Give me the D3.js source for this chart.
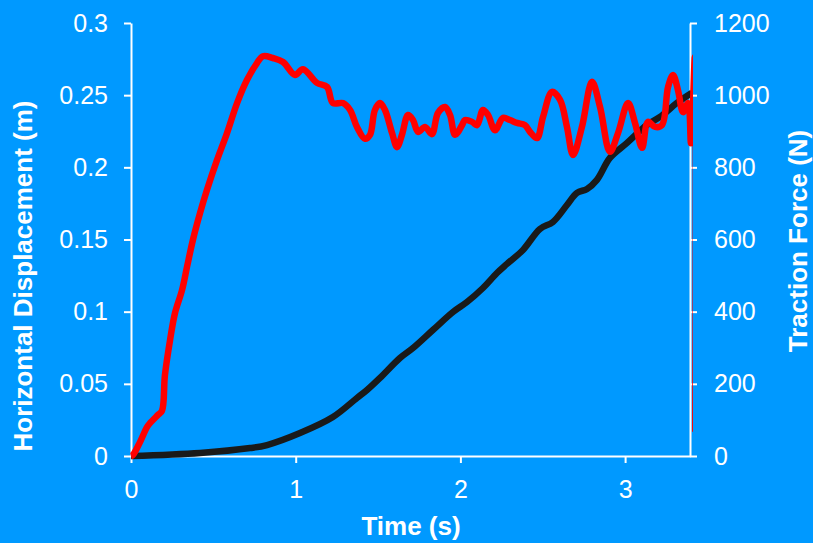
<!DOCTYPE html>
<html>
<head>
<meta charset="utf-8">
<script src="https://cdn.jsdelivr.net/npm/d3@7"></script>
<style>
    body { margin: 0; background: #0099ff; }
    svg { display: block; }
    text { font-family: Arial, "Liberation Sans", sans-serif; fill: #ffffff; }
</style>
</head>
<body>
<svg id="svg1" width="813" height="543"></svg>
<script>
// traction force (N) against time (s), red
var forceTime = [0, 0.012, 0.055, 0.097, 0.115, 0.164, 0.188, 0.206, 0.237, 0.267, 0.310, 0.340, 0.376,
    0.419, 0.461, 0.522, 0.583, 0.644, 0.704, 0.765, 0.801, 0.862, 0.923, 0.996, 1.044, 1.129, 1.190,
    1.226, 1.287, 1.330, 1.372, 1.421, 1.451, 1.481, 1.512, 1.542, 1.585, 1.615, 1.645, 1.682, 1.712,
    1.743, 1.785, 1.827, 1.864, 1.907, 1.937, 1.968, 2.010, 2.028, 2.071, 2.101, 2.137, 2.168, 2.210,
    2.259, 2.301, 2.344, 2.392, 2.423, 2.465, 2.502, 2.556, 2.605, 2.647, 2.684, 2.738, 2.799, 2.848,
    2.908, 2.957, 3.018, 3.060, 3.103, 3.139, 3.182, 3.224, 3.261, 3.291, 3.321, 3.352, 3.382, 3.400,
    3.424, 3.426];
var forceValues = [0, 3, 39, 80, 91, 114, 125, 224, 321, 396, 460, 524, 599,
    673, 737, 820, 895, 978, 1042, 1089, 1108, 1103, 1092, 1056, 1072, 1034, 1023,
    978, 978, 959, 912, 879, 890, 959, 978, 959, 895, 856, 890, 945, 931,
    898, 912, 892, 951, 967, 945, 890, 917, 931, 926, 917, 959, 945, 903,
    937, 931, 923, 917, 898, 881, 940, 1009, 987, 912, 834, 912, 1037, 967,
    843, 895, 978, 923, 854, 926, 912, 917, 1023, 1056, 1014, 953, 978, 867,
    1106, 67];

// horizontal displacement (m) against time (s), black
var dispTime = [0, 0.419, 0.723, 0.826, 1.026, 1.226, 1.372, 1.433, 1.512, 1.633, 1.712, 1.833, 1.955,
    2.040, 2.137, 2.222, 2.283, 2.380, 2.483, 2.562, 2.647, 2.708, 2.769, 2.829, 2.908, 3.012, 3.133,
    3.212, 3.315, 3.406];
var dispValues = [0, 0.0021, 0.0055, 0.0076, 0.0159, 0.0270, 0.0402, 0.0457, 0.0541, 0.0679, 0.0748, 0.0873, 0.0998,
    0.1067, 0.1164, 0.1268, 0.1331, 0.1428, 0.1573, 0.1622, 0.1739, 0.1823, 0.1850, 0.1913, 0.2065, 0.2169, 0.2294,
    0.2349, 0.2446, 0.2516];

var timeTicks = [0, 1, 2, 3];
var dispTicks = [0, 0.05, 0.1, 0.15, 0.2, 0.25, 0.3];
var dispTickLabels = ['0', '0.05', '0.1', '0.15', '0.2', '0.25', '0.3'];
var forceTicks = [0, 200, 400, 600, 800, 1000, 1200];

var svg = d3.select('#svg1');
var plotLeft = 131, plotRight = 690, plotTop = 23, plotBottom = 456;

var x = d3.scaleLinear().domain([0, 3.394]).range([plotLeft, plotRight]);
var yLeft = d3.scaleLinear().domain([0, 0.3]).range([plotBottom, plotTop]);
var yRight = d3.scaleLinear().domain([0, 1200]).range([plotBottom, plotTop]);

svg.append('rect').attr('width', 813).attr('height', 543).attr('fill', '#0099ff');

svg.append('clipPath').attr('id', 'plotClip')
    .append('rect')
    .attr('x', plotLeft - 10)
    .attr('y', 0)
    .attr('width', plotRight + 3 - (plotLeft - 10))
    .attr('height', 543);

function styleAxis(g) {
    g.selectAll('path, line').attr('stroke', '#ffffff').attr('stroke-width', 2);
    g.selectAll('text').attr('fill', '#ffffff').style('font-size', '25px')
        .style('font-family', 'Arial, "Liberation Sans", sans-serif');
}

svg.append('g')
    .attr('transform', 'translate(0,' + plotBottom + ')')
    .call(d3.axisBottom(x).tickValues(timeTicks).tickFormat(d3.format('d'))
        .tickSize(7).tickSizeOuter(0).tickPadding(17))
    .call(styleAxis);

svg.append('g')
    .attr('transform', 'translate(' + plotLeft + ',0)')
    .call(d3.axisLeft(yLeft).tickValues(dispTicks)
        .tickFormat(function (d, i) { return dispTickLabels[i]; })
        .tickSize(7).tickSizeOuter(0).tickPadding(16))
    .call(styleAxis);

svg.append('g')
    .attr('transform', 'translate(' + plotRight + ',0)')
    .call(d3.axisRight(yRight).tickValues(forceTicks).tickFormat(d3.format('d'))
        .tickSize(7).tickSizeOuter(0).tickPadding(17))
    .call(styleAxis);

var dispLine = d3.line()
    .x(function (d, i) { return x(dispTime[i]); })
    .y(function (d) { return yLeft(d); })
    .curve(d3.curveCatmullRom.alpha(0.5));

var forceLine = d3.line()
    .x(function (d, i) { return x(forceTime[i]); })
    .y(function (d) { return yRight(d); })
    .curve(d3.curveCatmullRom.alpha(0.5));

var lines = svg.append('g').attr('clip-path', 'url(#plotClip)');

lines.append('path')
    .attr('d', dispLine(dispValues))
    .attr('fill', 'none')
    .attr('stroke', '#1a1a1a')
    .attr('stroke-width', 6.5)
    .attr('stroke-linejoin', 'round');

lines.append('path')
    .attr('d', forceLine(forceValues))
    .attr('fill', 'none')
    .attr('stroke', '#ff0000')
    .attr('stroke-width', 6.5)
    .attr('stroke-linejoin', 'round');

// axis titles
svg.append('text')
    .attr('x', 411)
    .attr('y', 535)
    .attr('text-anchor', 'middle')
    .style('font-size', '26px')
    .style('font-weight', 'bold')
    .text('Time (s)');

svg.append('text')
    .attr('transform', 'translate(32,276) rotate(-90)')
    .attr('text-anchor', 'middle')
    .style('font-size', '26px')
    .style('font-weight', 'bold')
    .text('Horizontal Displacement (m)');

svg.append('text')
    .attr('transform', 'translate(807,241) rotate(-90)')
    .attr('text-anchor', 'middle')
    .style('font-size', '26px')
    .style('font-weight', 'bold')
    .text('Traction Force (N)');
</script>
</body>
</html>
